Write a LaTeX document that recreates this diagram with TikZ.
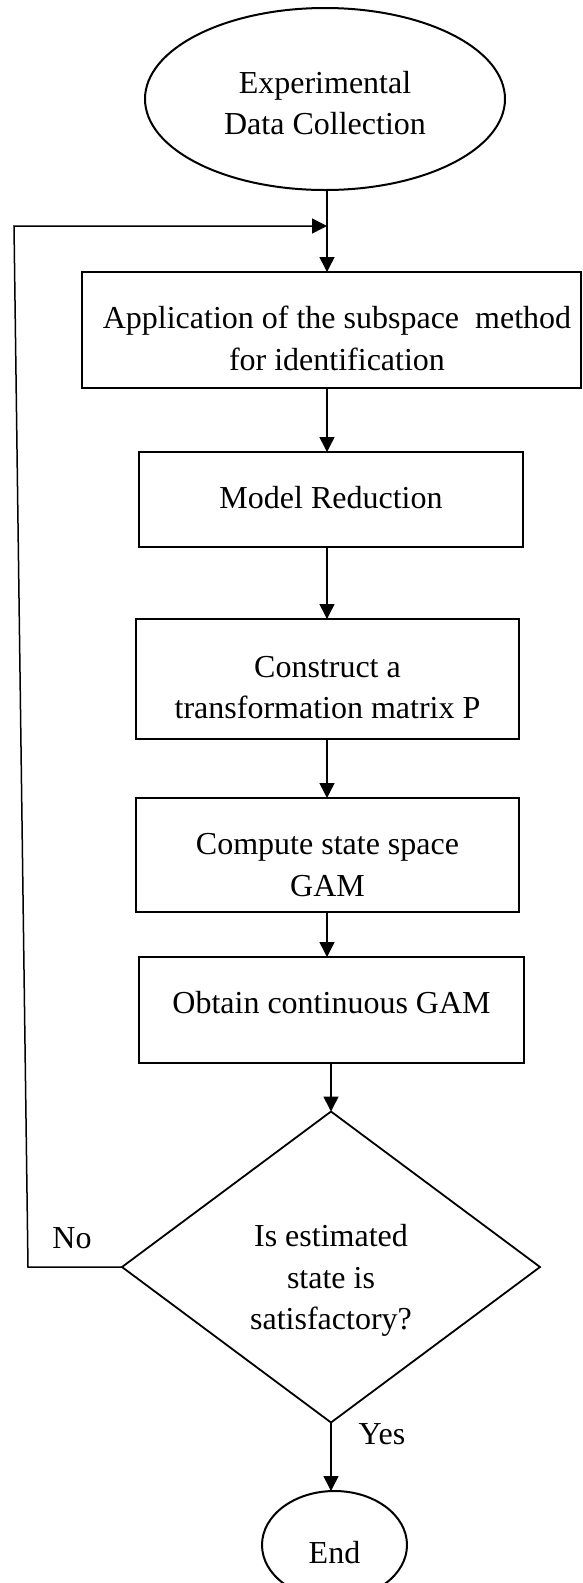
\documentclass[tikz,border=0pt]{standalone}
\usepackage{fontspec}
\setmainfont{Liberation Serif}
\usetikzlibrary{arrows.meta,shapes.geometric}

% centred lines of text, shifted vertically without changing the box size
\newcommand\boxtext[2]{\raisebox{#1}[\height][\depth]{\begin{tabular}{@{}c@{}}#2\end{tabular}}}

\begin{document}
\begin{tikzpicture}[x=1pt,y=-1pt,
  every node/.style={inner sep=0pt, outer sep=0pt, font=\fontsize{32}{41.5}\selectfont},
  procbox/.style={draw, line width=2pt, rectangle},
  terminal/.style={draw, line width=2pt, ellipse},
  decision/.style={draw, line width=1.8pt, diamond, aspect=1.34},
  flow/.style={line width=1.5pt, -{Triangle[length=15pt,width=15pt]}},
  tag/.style={}]

\useasboundingbox (0,0) rectangle (582,1583);

% terminals, process steps and the decision
\node[terminal, minimum width=360pt, minimum height=182pt] (e1) at (325,99)
  {\boxtext{-6.85pt}{Experimental\\Data Collection}};
\node[procbox, minimum width=499pt, minimum height=116pt] (b1) at (331.5,330)
  {\hspace*{11pt}\boxtext{-11.35pt}{Application of the subspace~ method\\for identification}};
\node[procbox, minimum width=384pt, minimum height=95pt] (b2) at (331,499.5)
  {\boxtext{-0.6pt}{Model Reduction}};
\node[procbox, minimum width=383pt, minimum height=120pt] (b3) at (327.5,679)
  {\boxtext{-10.85pt}{Construct a\\transformation matrix P}};
\node[procbox, minimum width=383pt, minimum height=114pt] (b4) at (327.5,855)
  {\boxtext{-12.35pt}{Compute state space\\GAM}};
\node[procbox, minimum width=385pt, minimum height=106pt] (b5) at (331.5,1010)
  {\boxtext{4.65pt}{Obtain continuous GAM}};
\node[decision, minimum width=418pt, minimum height=311pt] (d) at (331,1267)
  {\boxtext{-12.85pt}{Is estimated\\state is\\satisfactory?}};
\node[terminal, minimum width=145pt, minimum height=108pt] (end) at (334.5,1545)
  {\boxtext{-10.35pt}{End}};

% branch labels
\node[tag] (no) at (72,1238) {No};
\node[tag] (yes) at (382,1434) {Yes};

% main flow
\coordinate (spine) at (327,0);
\draw[flow] (e1.south -| spine) -- (b1.north -| spine);
\draw[flow] (b1.south -| spine) -- (b2.north -| spine);
\draw[flow] (b2.south -| spine) -- (b3.north -| spine);
\draw[flow] (b3.south -| spine) -- (b4.north -| spine);
\draw[flow] (b4.south -| spine) -- (b5.north -| spine);
\draw[flow] (b5.south -| d.north) -- (d.north);
\draw[flow] (d.south) -- (d.south |- end.north);

% feedback loop when the estimate is not satisfactory
\coordinate (lowcorner) at (28,1267);
\coordinate (topcorner) at (14,226);
\coordinate (merge) at (327,226);
\draw[flow] (d.west) -- (lowcorner) -- (topcorner) -- (merge);
\end{tikzpicture}
\end{document}
